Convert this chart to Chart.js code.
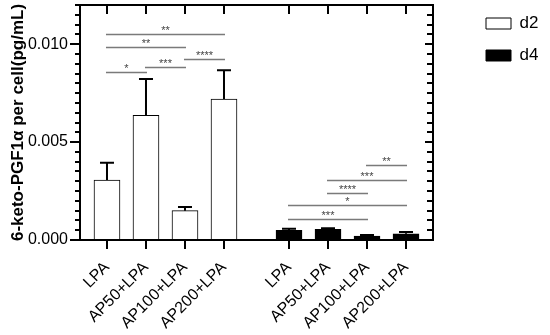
<!DOCTYPE html>
<html>
<head>
<meta charset="utf-8">
<script src="https://cdn.jsdelivr.net/npm/chart.js@4"></script>
<style>
  body { margin: 0; background: #fff; }
</style>
</head>
<body>
<canvas id="chart" width="550" height="335"></canvas>
<script>
// Values
const categories = ['LPA', 'AP50+LPA', 'AP100+LPA', 'AP200+LPA'];
const d2Mean = [0.00306, 0.00636, 0.0015, 0.0072];
const d2Err = [0.00089, 0.00186, 0.00018, 0.00147];
const d4Mean = [0.0005, 0.00055, 0.0002, 0.00032];
const d4Err = [0.00008, 0.00005, 0.00006, 0.00009];
const yTicks = [0, 0.005, 0.010];
const yMax = 0.012;

// Significance brackets: [from bar, to bar, stars, height]
const d2Sig = [[0, 1, '*', 0.00856], [1, 2, '***', 0.00883], [2, 3, '****', 0.00923], [0, 2, '**', 0.00985], [0, 3, '**', 0.01053]];
const d4Sig = [[2, 3, '**', 0.00383], [1, 3, '***', 0.00306], [1, 2, '****', 0.00238], [0, 3, '*', 0.00177], [0, 2, '***', 0.00107]];

// Layout
const GROUP_SHIFT = 4.667;
const X_MIN = 0.308, X_MAX = 9.359;
const MINOR_STEP = 0.0005;
const FONT = "'Liberation Sans', Arial, sans-serif";

const xPos = (g, i) => 1 + i + g * GROUP_SHIFT;
const tickPositions = [0, 1].flatMap(g => categories.map((c, i) => xPos(g, i)));

// Error bars, brackets and the inward frame ticks
const extras = {
    id: 'extras',
    afterDatasetsDraw(chart) {
        const { ctx, chartArea: area, scales: { x, y } } = chart;
        ctx.save();

        // error bars (upper only)
        [[d2Mean, d2Err], [d4Mean, d4Err]].forEach(([mean, err], g) => {
            mean.forEach((v, i) => {
                const px = x.getPixelForValue(xPos(g, i));
                const y0 = y.getPixelForValue(v);
                const y1 = y.getPixelForValue(v + err[i]);
                ctx.strokeStyle = '#000';
                ctx.lineWidth = 2;
                ctx.beginPath();
                ctx.moveTo(px, y0);
                ctx.lineTo(px, y1);
                ctx.moveTo(px - 7, y1);
                ctx.lineTo(px + 7, y1);
                ctx.stroke();
            });
        });

        // significance brackets
        ctx.font = '11px ' + FONT;
        ctx.textAlign = 'center';
        ctx.textBaseline = 'alphabetic';
        [d2Sig, d4Sig].forEach((sig, g) => {
            sig.forEach(([a, b, stars, h]) => {
                const xa = x.getPixelForValue(xPos(g, a)) - 1;
                const xb = x.getPixelForValue(xPos(g, b)) + 1;
                const py = Math.round(y.getPixelForValue(h)) + 0.5;
                ctx.strokeStyle = '#7a7a7a';
                ctx.lineWidth = 1.5;
                ctx.beginPath();
                ctx.moveTo(xa, py);
                ctx.lineTo(xb, py);
                ctx.stroke();
                ctx.fillStyle = '#444';
                ctx.fillText(stars, (xa + xb) / 2, py - 1);
            });
        });

        // minor ticks on the left, inward ticks on the right
        ctx.strokeStyle = '#000';
        ctx.lineWidth = 2;
        ctx.beginPath();
        for (let k = 0; k * MINOR_STEP <= yMax + 1e-9; k++) {
            const v = k * MINOR_STEP;
            const py = Math.round(y.getPixelForValue(v));
            const major = yTicks.some(t => Math.abs(t - v) < 1e-9);
            if (!major) {
                ctx.moveTo(area.left, py);
                ctx.lineTo(area.left - 5, py);
            }
            ctx.moveTo(area.right, py);
            ctx.lineTo(area.right - (major ? 8 : 6), py);
        }
        // inward ticks on the top frame
        tickPositions.forEach(v => {
            const px = Math.round(x.getPixelForValue(v));
            ctx.moveTo(px, area.top);
            ctx.lineTo(px, area.top + 9);
        });
        ctx.stroke();
        ctx.restore();
    }
};

new Chart(document.getElementById('chart'), {
    type: 'bar',
    data: {
        datasets: [
            {
                label: 'd2',
                data: d2Mean.map((v, i) => ({ x: xPos(0, i), y: v })),
                backgroundColor: '#fff',
                borderColor: '#000',
                borderWidth: 1,
                barThickness: 26,
                grouped: false
            },
            {
                label: 'd4',
                data: d4Mean.map((v, i) => ({ x: xPos(1, i), y: v })),
                backgroundColor: '#000',
                borderColor: '#000',
                borderWidth: 1,
                barThickness: 26,
                grouped: false
            }
        ]
    },
    options: {
        responsive: false,
        animation: false,
        devicePixelRatio: 1,
        layout: { padding: { top: 0, right: 12, bottom: 0, left: 0 } },
        plugins: {
            legend: {
                position: 'right',
                align: 'start',
                maxWidth: 67,
                labels: {
                    boxWidth: 25,
                    boxHeight: 11,
                    padding: 15,
                    color: '#000',
                    font: { family: FONT, size: 17 }
                }
            },
            tooltip: { enabled: false }
        },
        scales: {
            x: {
                type: 'linear',
                position: 'bottom',
                min: X_MIN,
                max: X_MAX,
                offset: false,
                afterBuildTicks: s => { s.ticks = tickPositions.map(v => ({ value: v })); },
                afterFit: s => { s.height = 95; s.paddingLeft = 0; s.paddingRight = 0; },
                ticks: {
                    autoSkip: false,
                    minRotation: 45,
                    maxRotation: 45,
                    padding: 9,
                    color: '#000',
                    font: { family: FONT, size: 16 },
                    callback: (v, i) => categories[i % categories.length]
                },
                grid: { offset: false, drawOnChartArea: false, tickLength: 9, lineWidth: 2, color: '#000' },
                border: { color: '#000', width: 2 }
            },
            xTop: {
                type: 'linear',
                position: 'top',
                min: X_MIN,
                max: X_MAX,
                offset: false,
                afterFit: s => { s.height = 5; s.paddingLeft = 0; s.paddingRight = 0; },
                ticks: { display: false },
                grid: { display: false },
                border: { color: '#000', width: 2 }
            },
            y: {
                position: 'left',
                min: 0,
                max: yMax,
                afterBuildTicks: s => { s.ticks = yTicks.map(v => ({ value: v })); },
                afterFit: s => { s.width = 80; s.paddingTop = 0; s.paddingBottom = 0; },
                ticks: {
                    padding: 2,
                    color: '#000',
                    font: { family: FONT, size: 16 },
                    callback: v => v.toFixed(3)
                },
                grid: { drawOnChartArea: false, tickLength: 10, lineWidth: 2, color: '#000' },
                border: { color: '#000', width: 2 },
                title: {
                    display: true,
                    text: '6-keto-PGF1α per cell(pg/mL)',
                    color: '#000',
                    font: { family: FONT, size: 17, weight: 'bold' },
                    padding: { top: 8, bottom: 0 }
                }
            },
            yRight: {
                position: 'right',
                min: 0,
                max: yMax,
                afterFit: s => { s.width = 38; s.paddingTop = 0; s.paddingBottom = 0; },
                ticks: { display: false },
                grid: { display: false },
                border: { color: '#000', width: 2 }
            }
        }
    },
    plugins: [extras]
});
</script>
</body>
</html>
